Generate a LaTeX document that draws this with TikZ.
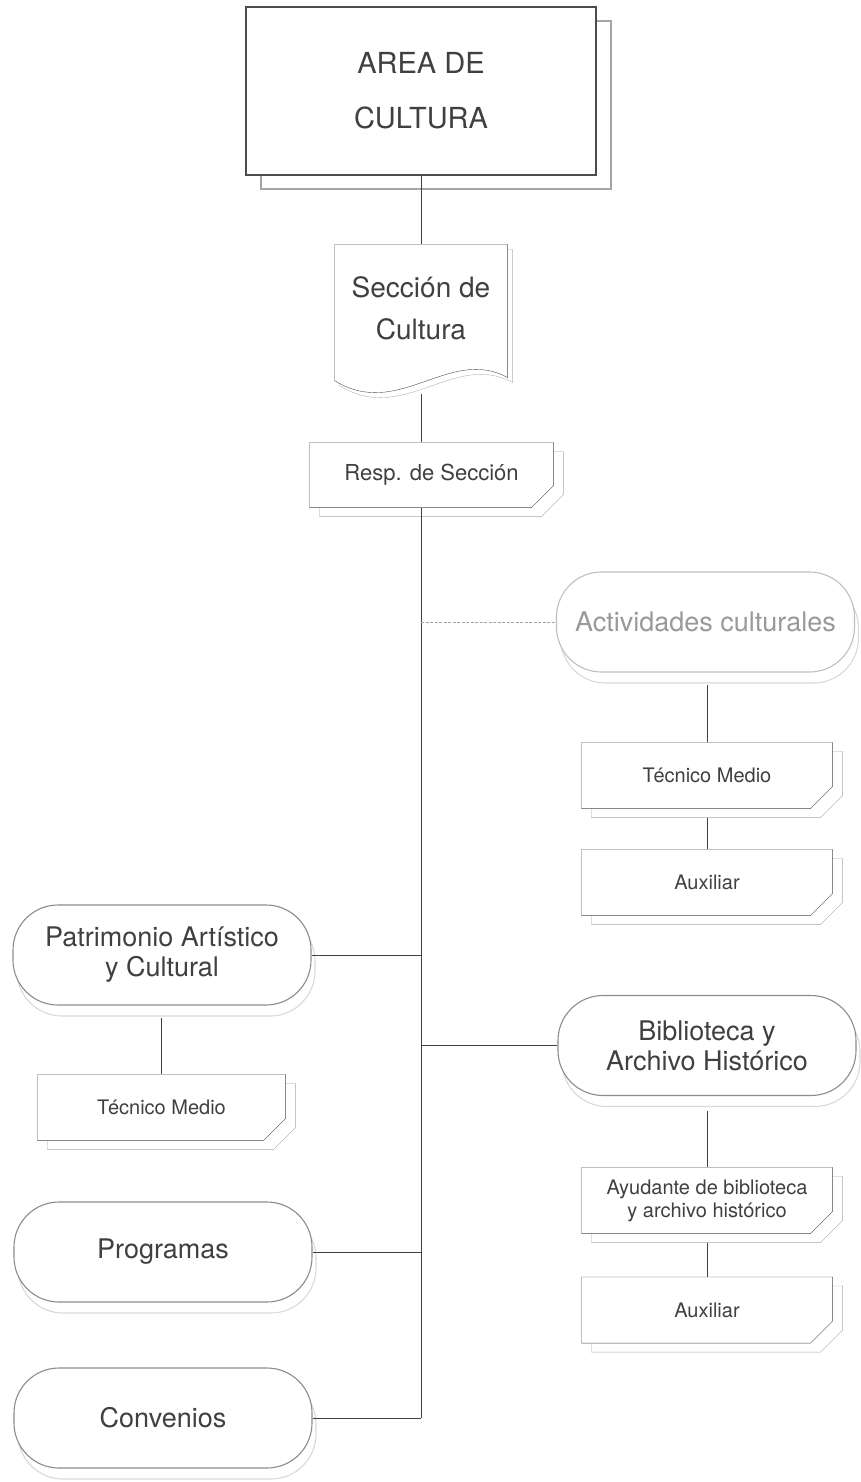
\documentclass[tikz,border=0pt]{standalone}
\usepackage{fontspec}
\setmainfont{TeX Gyre Heros}
\usetikzlibrary{positioning,calc,shadows,backgrounds}

% bevelled box with its offset copy behind it
\newcommand{\cutbox}[1]{%
  \begin{pgfonlayer}{background}
    \filldraw[boxshadow] let \p1=(#1.north west), \p2=(#1.south east) in
      (\x1+10pt,\y1-9pt) -- (\x2+10pt,\y1-9pt) -- (\x2+10pt,\y2+13pt)
      -- (\x2-12pt,\y2-9pt) -- (\x1+10pt,\y2-9pt) -- cycle;
    \filldraw[boxline] let \p1=(#1.north west), \p2=(#1.south east) in
      (\x1,\y1) -- (\x2,\y1) -- (\x2,\y2+22pt) -- (\x2-22pt,\y2) -- (\x1,\y2) -- cycle;
  \end{pgfonlayer}}

\begin{document}
\begin{tikzpicture}[x=1pt, y=-1pt, line width=1.1pt,
    every node/.style={text=black!75, align=center, inner sep=0pt},
    headbox/.style={draw=black!70, fill=white, minimum width=350pt, minimum height=168pt,
      font=\fontsize{29}{55}\selectfont,
      copy shadow={shadow xshift=15pt, shadow yshift=-14pt, draw=black!35, fill=white}},
    docbox/.style={minimum width=172pt, minimum height=126pt, font=\fontsize{28}{42}\selectfont},
    pill/.style={draw=black!45, fill=white, rounded corners=45pt,
      minimum width=298pt, minimum height=100pt, font=\fontsize{27}{30}\selectfont,
      copy shadow={shadow xshift=4pt, shadow yshift=-11pt, draw=black!15, fill=white}},
    faintpill/.style={pill, draw=black!25, text=black!40},
    cut/.style={minimum width=250pt, minimum height=65pt, font=\fontsize{20}{23}\selectfont},
    boxline/.style={draw=black!70, fill=white},
    boxshadow/.style={draw=black!35, fill=white},
    link/.style={draw=black!75},
    faintlink/.style={draw=black!35, dash pattern=on 3pt off 1.5pt}]
  \useasboundingbox (0,0) rectangle (861,1482);

  % Head of the area
  \node[headbox] (area) at (421,91) {AREA DE\\CULTURA};
  \node[docbox] (sec) at (421,308) {Sección de\\Cultura};
  \node[cut, minimum width=243pt, minimum height=64pt, font=\fontsize{22}{26}\selectfont]
    (resp) at (431.5,475) {Resp. de Sección};

  % Right branches
  \node[faintpill] (act) at (705.5,622) {Actividades culturales};
  \node[cut] (tmA) at (707,775.5) {Técnico Medio};
  \node[cut] (auxA) at (707,882.5) {Auxiliar};
  \node[pill] (bib) at (707,1045.5) {Biblioteca y\\Archivo Histórico};
  \node[cut] (ayu) at (707,1200.5) {Ayudante de biblioteca\\y archivo histórico};
  \node[cut] (auxB) at (707,1310) {Auxiliar};

  % Left branches
  \node[pill] (pat) at (162,955) {Patrimonio Artístico\\y Cultural};
  \node[cut, minimum width=247pt] (tmB) at (161.5,1107.5) {Técnico Medio};
  \node[pill] (prog) at (163,1252) {Programas};
  \node[pill] (conv) at (163,1418) {Convenios};

  % Outlines
  \foreach \bx in {resp,tmA,auxA,tmB,ayu,auxB} {\cutbox{\bx}}
  \begin{pgfonlayer}{background}
    \filldraw[boxshadow, draw=black!30] let \p1=(sec.north west), \p2=(sec.south east) in
      (\x1+5pt,\y1-5pt) -- (\x2+5pt,\y1-5pt) -- (\x2+5pt,\y2-11pt)
      .. controls (\x2-53pt,\y2+21pt) and (\x1+69pt,\y2-54pt) .. (\x1+5pt,\y2-14pt) -- cycle;
    \filldraw[boxline] let \p1=(sec.north west), \p2=(sec.south east) in
      (\x1,\y1) -- (\x2,\y1) -- (\x2,\y2-6pt)
      .. controls (\x2-58pt,\y2+26pt) and (\x1+64pt,\y2-49pt) .. (\x1,\y2-9pt) -- cycle;
  \end{pgfonlayer}

  % Connectors
  \draw[link] (area) -- (sec);
  \draw[link, shorten <=22pt] (sec.south) -- (sec.south |- resp.north);
  \draw[link] (resp.south -| area.south) -- (conv.east -| area.south);
  \draw[faintlink] (act.west -| area.south) -- (act.west);
  \draw[link] (pat.east) -- (pat.east -| area.south);
  \draw[link] (bib.west) -- (bib.west -| area.south);
  \draw[link] (prog.east) -- (prog.east -| area.south);
  \draw[link] (conv.east) -- (conv.east -| area.south);
  \draw[link, shorten <=12pt] (tmA.north |- act.south) -- (tmA.north);
  \draw[link, shorten <=9pt] (tmA.south) -- (auxA.north);
  \draw[link, shorten <=12pt] (tmB.north |- pat.south) -- (tmB.north);
  \draw[link, shorten <=15pt] (ayu.north |- bib.south) -- (ayu.north);
  \draw[link, shorten <=9pt] (ayu.south) -- (auxB.north);
\end{tikzpicture}
\end{document}
